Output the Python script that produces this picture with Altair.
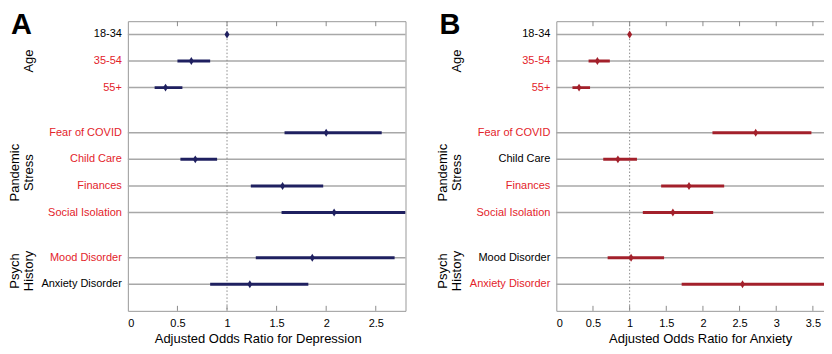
import altair as alt
import pandas as pd

# ---------------- data ----------------
groups = ["Age", "Pandemic\nStress", "Psych\nHistory"]
group_sizes = [3, 4, 2]
factors = ["18-34", "35-54", "55+",
           "Fear of COVID", "Child Care", "Finances", "Social Isolation",
           "Mood Disorder", "Anxiety Disorder"]

dep_or = [1.0, 0.64, 0.38, 2.00, 0.68, 1.56, 2.08, 1.86, 1.23]
dep_lo = [None, 0.50, 0.27, 1.58, 0.53, 1.24, 1.55, 1.29, 0.83]
dep_hi = [None, 0.83, 0.55, 2.56, 0.90, 1.97, 2.95, 2.69, 1.82]
dep_sig = [False, True, True, True, True, True, True, True, False]

anx_or = [1.0, 0.56, 0.31, 2.72, 0.84, 1.81, 1.59, 1.02, 2.54]
anx_lo = [None, 0.44, 0.22, 2.13, 0.64, 1.43, 1.18, 0.70, 1.71]
anx_hi = [None, 0.73, 0.46, 3.48, 1.10, 2.29, 2.14, 1.47, 3.95]
anx_sig = [False, True, True, True, False, True, True, False, True]

dep_ticks = [0, 0.5, 1, 1.5, 2, 2.5]
anx_ticks = [0, 0.5, 1, 1.5, 2, 2.5, 3, 3.5]

# ---------------- layout helpers ----------------
GAP = 0.7
pos, gpos = [], []
start = 0.0
for n in group_sizes:
    rows = [start + i + 0.5 for i in range(n)]
    pos += rows
    gpos.append(sum(rows) / n)
    start += n + GAP
YMAX = pos[-1] + 1.0

glines = []
for g, gp in zip(groups, gpos):
    parts = g.split("\n")
    for i, p in enumerate(parts):
        glines.append({"text": p, "gpos": gp, "from_end": len(parts) - 1 - i})
gdf = pd.DataFrame(glines)

FONT = "Liberation Sans"
RED = "#e3232a"
GRID = "#a8a8a8"
H = 290
DIAMOND = "M0,-1L0.62,0L0,1L-0.62,0Z"


def panel(letter, or_, lo, hi, sig, color, xmax, ticks, title, title_x, width):
    df = pd.DataFrame({"factor": factors, "pos": pos, "or": or_,
                       "lo": lo, "hi": hi,
                       "sig": ["sig" if s else "ns" for s in sig]})
    tdf = pd.DataFrame({"t": [t for t in ticks if t > 0]})
    ldf = pd.DataFrame({"panel": [letter]})
    refdf = pd.DataFrame({"ref": [1.0]})

    xs = alt.Scale(domain=[0, xmax], nice=False, zero=True, clamp=True)
    ys = alt.Scale(domain=[0, YMAX], reverse=True, nice=False)
    xaxis = alt.Axis(values=ticks, format="~g", title=title,
                     ticks=False, tickSize=0, domain=False, grid=False,
                     labelPadding=7, titlePadding=4, titleX=title_x,
                     labelFont=FONT, labelFontSize=11, labelColor="black",
                     titleFont=FONT, titleFontSize=13,
                     titleFontWeight="normal", titleColor="black")
    base = alt.Chart(df)

    rows = base.mark_rule(color=GRID, strokeWidth=1.5).encode(
        y=alt.Y("pos:Q", scale=ys, axis=None),
        x=alt.value(0), x2=alt.value(width))

    ref = alt.Chart(refdf).mark_rule(color="#8c8c8c", strokeWidth=1,
                                     strokeDash=[1.5, 2]).encode(
        x=alt.X("ref:Q", scale=xs, axis=xaxis))

    top_ticks = alt.Chart(tdf).mark_rule(color="#8c8c8c", strokeWidth=1).encode(
        x=alt.X("t:Q", scale=xs, axis=xaxis), y=alt.value(0), y2=alt.value(5))
    bot_ticks = alt.Chart(tdf).mark_rule(color="#8c8c8c", strokeWidth=1).encode(
        x=alt.X("t:Q", scale=xs, axis=xaxis), y=alt.value(H - 5), y2=alt.value(H))

    ci = base.mark_rule(color=color, strokeWidth=3, clip=True).encode(
        x=alt.X("lo:Q", scale=xs, axis=xaxis), x2="hi:Q",
        y=alt.Y("pos:Q", scale=ys, axis=None))

    pts = base.mark_point(shape=DIAMOND, filled=True, size=64, opacity=1,
                          color=color).encode(
        x=alt.X("or:Q", scale=xs, axis=xaxis),
        y=alt.Y("pos:Q", scale=ys, axis=None))

    labels = base.mark_text(align="right", baseline="middle", font=FONT,
                            fontSize=11).encode(
        y=alt.Y("pos:Q", scale=ys, axis=None), x=alt.value(-6),
        text="factor:N",
        color=alt.Color("sig:N", scale=alt.Scale(domain=["sig", "ns"],
                                                 range=[RED, "black"]),
                        legend=None))

    gbase = alt.Chart(gdf).mark_text(angle=270, align="center",
                                     baseline="bottom", font=FONT,
                                     fontSize=13, color="black")
    glast = gbase.transform_filter("datum.from_end == 0").encode(
        y=alt.Y("gpos:Q", scale=ys, axis=None), x=alt.value(-92),
        text="text:N")
    gfirst = gbase.transform_filter("datum.from_end == 1").encode(
        y=alt.Y("gpos:Q", scale=ys, axis=None), x=alt.value(-106),
        text="text:N")

    letter_mark = alt.Chart(ldf).mark_text(align="left", baseline="top",
                                           font=FONT, fontSize=29,
                                           fontWeight="bold",
                                           color="black").encode(
        x=alt.value(-117), y=alt.value(-10), text="panel:N")

    return alt.layer(rows, ref, top_ticks, bot_ticks, ci, pts, labels,
                     glast, gfirst, letter_mark).properties(width=width, height=H)


A = panel("A", dep_or, dep_lo, dep_hi, dep_sig, "#1f2060", 2.8, dep_ticks,
          "Adjusted Odds Ratio for Depression", 130, 278)
B = panel("B", anx_or, anx_lo, anx_hi, anx_sig, "#a3202b", 3.72, anx_ticks,
          "Adjusted Odds Ratio for Anxiety", 144, 273)

chart = alt.hconcat(A, B, spacing=29).resolve_scale(
    x="independent", y="independent", color="shared"
).properties(
    padding={"left": 0, "top": 2, "right": -7, "bottom": 0}
).configure_view(stroke="#999999", strokeWidth=1)

chart.save("out.html", embed_options={"renderer": "svg", "actions": False})
